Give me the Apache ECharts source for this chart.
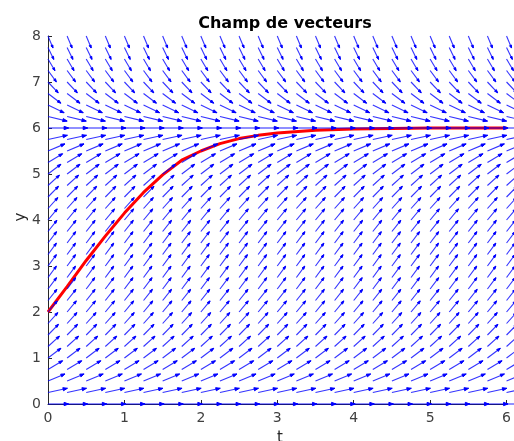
<!DOCTYPE html>
<html>
<head>
<meta charset="utf-8">
<script src="https://cdn.jsdelivr.net/npm/echarts@6/dist/echarts.min.js"></script>
<style>
  html, body { margin: 0; padding: 0; background: #fff; }
  #main { width: 514px; height: 441px; }
</style>
</head>
<body>
<div id="main"></div>
<script>
// colonnes du champ (t) et lignes (y)
var tCols = [0, 0.25, 0.5, 0.75, 1, 1.25, 1.5, 1.75, 2, 2.25, 2.5, 2.75, 3, 3.25, 3.5, 3.75, 4, 4.25, 4.5, 4.75, 5, 5.25, 5.5, 5.75, 6];
var yRows = [0, 0.25, 0.5, 0.75, 1, 1.25, 1.5, 1.75, 2, 2.25, 2.5, 2.75, 3, 3.25, 3.5, 3.75, 4, 4.25, 4.5, 4.75, 5, 5.25, 5.5, 5.75, 6, 6.25, 6.5, 6.75, 7, 7.25, 7.5, 7.75, 8];
// pente dy/dt lue sur chaque ligne de fleches
var rowSlopes = [0, 0.36, 0.69, 1.0, 1.25, 1.5, 1.7, 1.85, 2.0, 2.1, 2.2, 2.25, 2.25, 2.25, 2.2, 2.1, 2.0, 1.85, 1.7, 1.5, 1.25, 1.0, 0.7, 0.36, 0, -0.4, -0.8, -1.25, -1.75, -2.25, -2.8, -3.4, -4.0];
// solution (courbe rouge)
var solT = [0, 0.25, 0.5, 0.75, 1, 1.25, 1.5, 1.75, 2, 2.25, 2.5, 2.75, 3, 3.5, 4, 4.5, 5, 5.5, 6];
var solY = [2.0, 2.55, 3.12, 3.65, 4.15, 4.6, 4.98, 5.3, 5.5, 5.66, 5.77, 5.84, 5.89, 5.95, 5.98, 5.99, 6.0, 6.0, 6.0];
var xTicks = [0, 1, 2, 3, 4, 5, 6];
var yTicks = [0, 1, 2, 3, 4, 5, 6, 7, 8];

var arrowLen = 0.27; // longueur des fleches (unites de donnees)
var blue = '#0000ff';

var arrowData = [];
for (var j = 0; j < yRows.length; j++) {
  for (var i = 0; i < tCols.length; i++) {
    arrowData.push([tCols[i], yRows[j], rowSlopes[j]]);
  }
}
var solData = [];
for (var k = 0; k < solT.length; k++) {
  solData.push([solT[k], solY[k]]);
}

function renderArrow(params, api) {
  var t = api.value(0), y = api.value(1), s = api.value(2);
  var n = Math.sqrt(1 + s * s);
  var p0 = api.coord([t, y]);
  var p1 = api.coord([t + arrowLen / n, y + arrowLen * s / n]);
  var dx = p1[0] - p0[0], dy = p1[1] - p0[1];
  var len = Math.sqrt(dx * dx + dy * dy);
  var ux = dx / len, uy = dy / len;
  var hl = len * 0.22, hw = len * 0.08; // pointe de fleche
  var bx = p1[0] - ux * hl, by = p1[1] - uy * hl;
  return {
    type: 'group',
    children: [
      {
        type: 'line',
        shape: { x1: p0[0], y1: p0[1], x2: p1[0], y2: p1[1] },
        style: { stroke: blue, lineWidth: 1.1, opacity: 0.8 }
      },
      {
        type: 'polygon',
        shape: { points: [[p1[0], p1[1]], [bx - uy * hw, by + ux * hw], [bx + uy * hw, by - ux * hw]] },
        style: { fill: blue, stroke: blue, lineWidth: 1 }
      }
    ]
  };
}

var chart = echarts.init(document.getElementById('main'), null, { renderer: 'canvas' });
var axisColor = '#262626';
var option = {
  animation: false,
  backgroundColor: '#fff',
  title: {
    text: 'Champ de vecteurs',
    left: 280,
    top: 11,
    textAlign: 'center',
    textStyle: { fontFamily: 'DejaVu Sans', fontSize: 16, fontWeight: 'bold', color: '#000' }
  },
  // noms des axes places a la main (t en bas, y a gauche)
  graphic: [
    {
      type: 'text',
      x: 280, y: 431,
      style: { text: 't', fontFamily: 'DejaVu Sans', fontSize: 15, fill: axisColor, align: 'center', verticalAlign: 'top' }
    },
    {
      type: 'text',
      x: 21, y: 217,
      rotation: Math.PI / 2,
      style: { text: 'y', fontFamily: 'DejaVu Sans', fontSize: 15, fill: axisColor, align: 'center', verticalAlign: 'middle' }
    }
  ],
  grid: { left: 48, top: 36, width: 465, height: 368, containLabel: false },
  xAxis: {
    type: 'value',
    min: 0, max: 6, interval: 1,
    axisLine: { show: true, lineStyle: { color: axisColor, width: 1 } },
    axisTick: { show: true, inside: true, length: 4, lineStyle: { color: axisColor } },
    axisLabel: {
      margin: 7, fontFamily: 'DejaVu Sans', fontSize: 14, color: '#404040',
      formatter: function (v) { return xTicks.indexOf(v) >= 0 ? String(v) : ''; }
    },
    splitLine: { show: false }
  },
  yAxis: {
    type: 'value',
    min: 0, max: 8, interval: 1,
    axisLine: { show: true, lineStyle: { color: axisColor, width: 1 } },
    axisTick: { show: true, inside: true, length: 4, lineStyle: { color: axisColor } },
    axisLabel: {
      margin: 7, fontFamily: 'DejaVu Sans', fontSize: 14, color: '#404040',
      formatter: function (v) { return yTicks.indexOf(v) >= 0 ? String(v) : ''; }
    },
    splitLine: { show: false }
  },
  series: [
    {
      name: 'solution',
      type: 'line',
      data: solData,
      showSymbol: false,
      smooth: false,
      lineStyle: { color: '#ff0000', width: 3 },
      z: 2
    },
    {
      name: 'champ',
      type: 'custom',
      renderItem: renderArrow,
      data: arrowData,
      clip: false,
      z: 3
    }
  ]
};
chart.setOption(option);
</script>
</body>
</html>
